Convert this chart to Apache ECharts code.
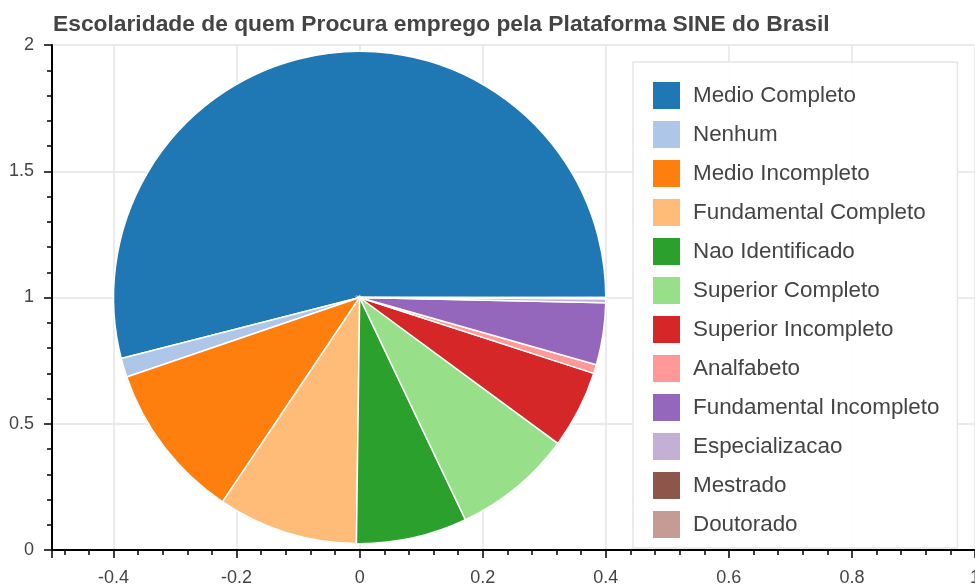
<!DOCTYPE html>
<html>
<head>
<meta charset="utf-8">
<script src="https://cdn.jsdelivr.net/npm/echarts@6/dist/echarts.min.js"></script>
<style>
  html, body { margin: 0; padding: 0; background: #ffffff; overflow: hidden; width: 975px; height: 586px; }
  #chart { width: 975px; height: 586px; }
</style>
</head>
<body>
<div id="chart"></div>
<script>
// ---- Data ----
var categories = ['Medio Completo', 'Nenhum', 'Medio Incompleto', 'Fundamental Completo',
  'Nao Identificado', 'Superior Completo', 'Superior Incompleto', 'Analfabeto',
  'Fundamental Incompleto', 'Especializacao', 'Mestrado', 'Doutorado'];
// share of people (percent)
var shares = [53.97, 1.25, 10.36, 9.19, 7.28, 7.83, 5.11, 0.58, 4.07, 0.25, 0.056, 0.028];
var colors = ['#1f77b4', '#aec7e8', '#ff7f0e', '#ffbb78', '#2ca02c', '#98df8a',
  '#d62728', '#ff9896', '#9467bd', '#c5b0d5', '#8c564b', '#c49c94'];
var yTickValues = [0, 0.5, 1, 1.5, 2];

// ---- Build wedges (angles from cumulative shares, counter-clockwise from east) ----
var total = shares.reduce(function (a, b) { return a + b; }, 0);
var CENTER_X = 0, CENTER_Y = 1, RADIUS = 0.4;
var cum = 0;
var series = categories.map(function (name, i) {
  var a0 = cum / total * 2 * Math.PI;
  cum += shares[i];
  var a1 = cum / total * 2 * Math.PI;
  return {
    name: name,
    type: 'custom',
    coordinateSystem: 'cartesian2d',
    itemStyle: { color: colors[i] },
    encode: { x: 0, y: 1 },
    data: [[CENTER_X, CENTER_Y, a0, a1]],
    renderItem: function (params, api) {
      var c = api.coord([api.value(0), api.value(1)]);
      var r = api.size([RADIUS, 0])[0];
      var s = api.value(2), e = api.value(3);
      return {
        type: 'sector',
        shape: { cx: c[0], cy: c[1], r: r, r0: 0, startAngle: -e, endAngle: -s, clockwise: true },
        style: { fill: api.visual('color'), stroke: '#ffffff', lineWidth: 1.5 }
      };
    }
  };
});

var chart = echarts.init(document.getElementById('chart'), null, { renderer: 'canvas', width: 975, height: 586 });
var font = '"Liberation Sans", Arial, Helvetica, sans-serif';
chart.setOption({
  animation: false,
  backgroundColor: '#ffffff',
  title: {
    text: 'Escolaridade de quem Procura emprego pela Plataforma SINE do Brasil',
    left: 53, top: 13, padding: 0,
    textStyle: { fontFamily: font, fontSize: 22.8, fontWeight: 'bold', color: '#444444' }
  },
  legend: {
    orient: 'vertical',
    left: 633, top: 62,
    padding: [20, 18, 10, 20],
    itemWidth: 27, itemHeight: 27, itemGap: 12,
    icon: 'rect',
    backgroundColor: 'rgba(255,255,255,0.95)',
    borderColor: '#e5e5e5', borderWidth: 1.5,
    textStyle: { fontFamily: font, fontSize: 22.4, color: '#444444', padding: [0, 0, 0, 8] },
    data: categories
  },
  grid: { left: 52, right: 0, top: 45, bottom: 36, containLabel: false, outerBoundsMode: 'none' },
  xAxis: {
    type: 'value', min: -0.5, max: 1.0,
    minInterval: 0.2, maxInterval: 0.2,
    axisLine: { show: true, onZero: false, lineStyle: { color: '#000000', width: 2 } },
    axisTick: { show: true, length: 8, lineStyle: { color: '#000000', width: 1.5 } },
    minorTick: { show: true, splitNumber: 5, length: 5, lineStyle: { color: '#000000', width: 1.5 } },
    axisLabel: { showMinLabel: false, margin: 19, fontFamily: font, fontSize: 18, color: '#444444' },
    splitLine: { show: true, lineStyle: { color: '#e5e5e5', width: 1.5 } }
  },
  yAxis: {
    type: 'value', min: yTickValues[0], max: yTickValues[yTickValues.length - 1], interval: 0.5,
    axisLine: { show: true, onZero: false, lineStyle: { color: '#000000', width: 2 } },
    axisTick: { show: true, length: 8, lineStyle: { color: '#000000', width: 1.5 } },
    minorTick: { show: true, splitNumber: 5, length: 5, lineStyle: { color: '#000000', width: 1.5 } },
    axisLabel: { margin: 18, fontFamily: font, fontSize: 18, color: '#444444' },
    splitLine: { show: true, lineStyle: { color: '#e5e5e5', width: 1.5 } }
  },
  series: series
});
</script>
</body>
</html>
